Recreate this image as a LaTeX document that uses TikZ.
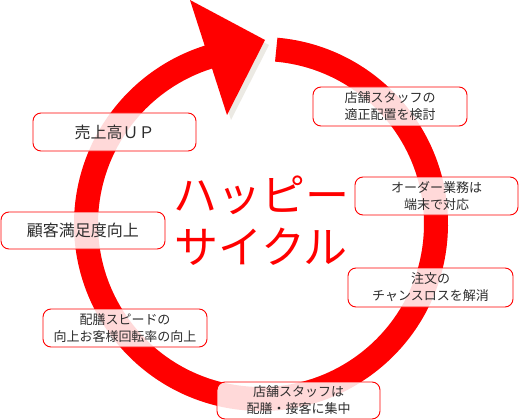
\documentclass[tikz,border=0pt]{standalone}
\usepackage{fontspec}
\setmainfont{Noto Sans CJK JP}
\usetikzlibrary{calc}
\definecolor{ringred}{RGB}{255,0,0}
\definecolor{shadowgray}{RGB}{236,234,228}
\definecolor{txtgray}{RGB}{45,45,45}
\begin{document}
\begin{tikzpicture}[x=1pt,y=-1pt,
  infobox/.style={draw=ringred, line width=0.9pt, rounded corners=8pt, fill=white, fill opacity=0.85, text opacity=1,
    text=txtgray, align=center, inner sep=0pt, font=\fontsize{13}{17}\selectfont},
  bigbox/.style={infobox, font=\fontsize{16}{19}\selectfont},
  ringstyle/.style={line width=24pt},
  bigtext/.style={text=ringred, align=center, inner sep=0pt, font=\fontsize{44}{52}\selectfont}]
\useasboundingbox (0,0) rectangle (520,420);
\coordinate (c) at (261,224);
% shadow
\begin{scope}[shift={(4,5)}]
  \draw[ringstyle, shadowgray] ($(c)+(-85:175)$) arc[start angle=-85, end angle=254, radius=175];
  \fill[shadowgray] (190,0) -- (265,40) -- (227,115) -- cycle;
\end{scope}
% ring
\draw[ringstyle, ringred] ($(c)+(-85:175)$) arc[start angle=-85, end angle=254, radius=175];
\fill[ringred] (190,0) -- (265,40) -- (227,115) -- cycle;
% boxes
\node[infobox, minimum width=154pt, minimum height=39pt] (b1) at (390,106.5) {店舗スタッフの\\適正配置を検討};
\node[infobox, minimum width=163pt, minimum height=38pt] (b2) at (436.5,196) {オーダー業務は\\端末で対応};
\node[infobox, minimum width=165pt, minimum height=39pt] (b3) at (430.5,287.5) {注文の\\チャンスロスを解消};
\node[infobox, minimum width=163pt, minimum height=37pt] (b4) at (298.5,400.5) {店舗スタッフは\\配膳・接客に集中};
\node[infobox, minimum width=164pt, minimum height=38pt] (b5) at (125,328) {配膳スピードの\\向上お客様回転率の向上};
\node[bigbox, minimum width=164pt, minimum height=37pt] (b6) at (83,230.5) {顧客満足度向上};
\node[bigbox, minimum width=163pt, minimum height=38pt] (b7) at (114.5,132) {売上高ＵＰ};
% title
\node[bigtext] (title) at (261,221) {ハッピー\\サイクル};
\end{tikzpicture}
\end{document}
